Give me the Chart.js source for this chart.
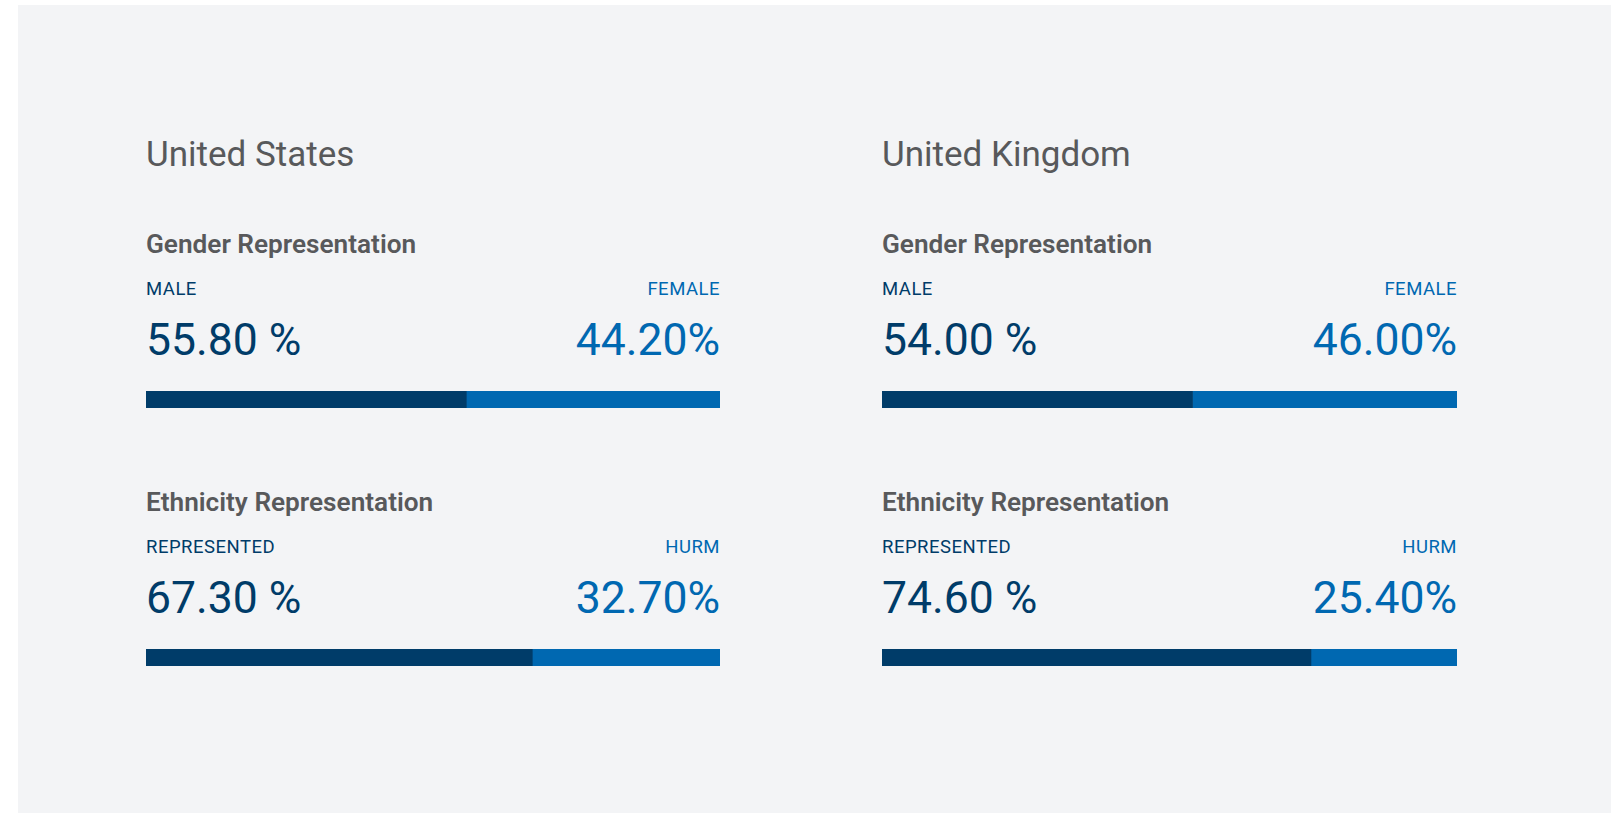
<!DOCTYPE html>
<html>
<head>
<meta charset="utf-8">
<script src="https://cdn.jsdelivr.net/npm/chart.js@4"></script>
<style>
  html, body { margin: 0; padding: 0; background: #fff; width: 1620px; height: 814px; overflow: hidden; }
  body { font-family: Roboto, "Noto Sans", sans-serif; position: relative; }
  #panel { position: absolute; left: 18px; top: 5px; width: 1593px; height: 808px; background: #f3f4f6; }
  .col { position: absolute; top: 0; width: 574px; height: 100%; }
  .txt { position: absolute; line-height: 1; white-space: nowrap; }
  .country { font-size: 35px; color: #58595b; left: 0; }
  .heading { font-size: 26.2px; font-weight: 600; color: #58595b; left: 0; }
  .lbl { font-size: 18.5px; letter-spacing: 0.5px; }
  .val { font-size: 44.5px; }
  .dark { color: #003c69; left: 0; }
  .blue { color: #0068b1; right: 0; }
  .bar { position: absolute; left: 0; width: 100%; height: 17px; }
</style>
</head>
<body>
<div id="panel"></div>
<script>
const countries = ['United States', 'United Kingdom'];
const groupTitles = ['Gender Representation', 'Ethnicity Representation'];
const genderLabels = ['MALE', 'FEMALE'];
const ethnicityLabels = ['REPRESENTED', 'HURM'];
const malePct = [55.8, 54.0];
const femalePct = [44.2, 46.0];
const representedPct = [67.3, 74.6];
const hurmPct = [32.7, 25.4];

const darkColor = '#003c69';
const blueColor = '#0068b1';

const colLeft = [128, 864];   // relative to panel
const groupTop = [0, 258];

function addText(parent, cls, text, top) {
  const el = document.createElement('div');
  el.className = 'txt ' + cls;
  el.textContent = text;
  el.style.top = top + 'px';
  parent.appendChild(el);
  return el;
}

function renderGroup(col, title, labels, leftVal, rightVal, offset) {
  addText(col, 'heading', title, 225.6 + offset);
  addText(col, 'lbl dark', labels[0], 275.4 + offset);
  addText(col, 'lbl blue', labels[1], 275.4 + offset);
  addText(col, 'val dark', leftVal.toFixed(2) + ' %', 312.5 + offset);
  addText(col, 'val blue', rightVal.toFixed(2) + '%', 312.5 + offset);

  const box = document.createElement('div');
  box.className = 'bar';
  box.style.top = (386 + offset) + 'px';
  const canvas = document.createElement('canvas');
  box.appendChild(canvas);
  col.appendChild(box);

  new Chart(canvas, {
    type: 'bar',
    data: {
      labels: [title],
      datasets: [
        { label: labels[0], data: [leftVal], backgroundColor: darkColor, borderWidth: 0, barPercentage: 1, categoryPercentage: 1 },
        { label: labels[1], data: [rightVal], backgroundColor: blueColor, borderWidth: 0, barPercentage: 1, categoryPercentage: 1 }
      ]
    },
    options: {
      indexAxis: 'y',
      responsive: true,
      maintainAspectRatio: false,
      animation: false,
      layout: { padding: 0 },
      scales: {
        x: { stacked: true, min: 0, max: 100, display: false },
        y: { stacked: true, display: false }
      },
      plugins: { legend: { display: false }, tooltip: { enabled: false } }
    }
  });
}

const panel = document.getElementById('panel');
countries.forEach((name, i) => {
  const col = document.createElement('div');
  col.className = 'col';
  col.style.left = colLeft[i] + 'px';
  if (i === 1) col.style.width = '575px';
  panel.appendChild(col);
  addText(col, 'country', name, 131.5);
  renderGroup(col, groupTitles[0], genderLabels, malePct[i], femalePct[i], groupTop[0]);
  renderGroup(col, groupTitles[1], ethnicityLabels, representedPct[i], hurmPct[i], groupTop[1]);
});
</script>
</body>
</html>
